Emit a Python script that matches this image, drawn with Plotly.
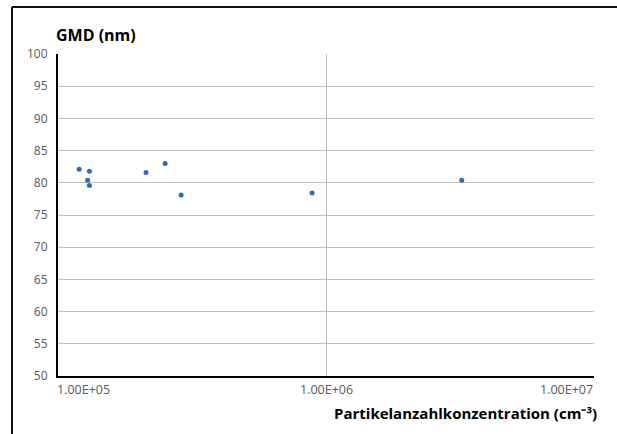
import plotly.graph_objects as go
import math

# Data
konzentration = [1.20e5, 1.31e5, 1.29e5, 1.31e5, 2.13e5, 2.51e5, 2.88e5, 8.87e5, 3.21e6]
gmd = [82.1, 81.8, 80.4, 79.6, 81.6, 83.0, 78.1, 78.4, 80.4]
x_ticks = [1e5, 1e6, 1e7]
x_tick_labels = ["1.00E+05", "1.00E+06", "1.00E+07"]
y_ticks = [50, 55, 60, 65, 70, 75, 80, 85, 90, 95, 100]

FONT = "Open Sans"
W, H = 617, 434
L, R, T, B = 58, 594, 54, 376
pw, ph = R - L, B - T

def px_x(p):
    return (p - L) / pw

def px_y(p):
    return (B - p) / ph

fig = go.Figure()
fig.add_trace(go.Scatter(
    x=konzentration, y=gmd, mode="markers",
    marker=dict(size=5, color="#2e6db4"),
    showlegend=False, hoverinfo="skip",
))

fig.update_layout(
    width=W, height=H,
    margin=dict(l=L, r=W - R, t=T, b=H - B),
    paper_bgcolor="white", plot_bgcolor="white",
    font=dict(family=FONT, size=11, color="#595959"),
    xaxis=dict(
        type="log", range=[5, 7],
        tickvals=x_ticks, showticklabels=False,
        showgrid=True, gridcolor="#c0c0c0", gridwidth=1,
        showline=True, linecolor="black", linewidth=2,
        zeroline=False, ticks="",
    ),
    yaxis=dict(
        range=[50, 100], tickvals=y_ticks,
        showgrid=True, gridcolor="#c0c0c0", gridwidth=1,
        showline=True, linecolor="black", linewidth=2,
        zeroline=False, ticks="", ticklabelstandoff=6,
        tickfont=dict(family=FONT, size=12, color="#595959"),
    ),
)

# x tick labels: first left-aligned, middle centered, last right-aligned
anchors = ["left", "center", "right"]
shifts = [-3, 0, 1]
for v, lab, anc, sh in zip(x_ticks, x_tick_labels, anchors, shifts):
    fig.add_annotation(
        x=math.log10(v), xref="x", y=0, yref="paper",
        yanchor="top", xanchor=anc, yshift=-3, xshift=sh,
        text=lab, showarrow=False,
        font=dict(family=FONT, size=12.5, color="#595959"),
    )

# Axis titles
fig.add_annotation(
    x=px_x(54), xref="paper", y=px_y(35), yref="paper",
    xanchor="left", yanchor="middle",
    text="<b>GMD (nm)</b>", showarrow=False,
    font=dict(family=FONT, size=16, color="black"),
)
fig.add_annotation(
    x=px_x(599), xref="paper", y=px_y(413), yref="paper",
    xanchor="right", yanchor="middle",
    text="<b>Partikelanzahlkonzentration (cm⁻³)</b>", showarrow=False,
    font=dict(family=FONT, size=15, color="black"),
)

# Outer frame (top and left lines)
fig.add_shape(type="line", xref="paper", yref="paper",
              x0=px_x(12), x1=px_x(W + 5), y0=px_y(7), y1=px_y(7),
              line=dict(color="#111111", width=2))
fig.add_shape(type="line", xref="paper", yref="paper",
              x0=px_x(12), x1=px_x(12), y0=px_y(7), y1=px_y(H + 5),
              line=dict(color="#111111", width=2))

fig.write_html("out.html", config={"displayModeBar": False},
               post_script="document.body.style.margin='0';")
